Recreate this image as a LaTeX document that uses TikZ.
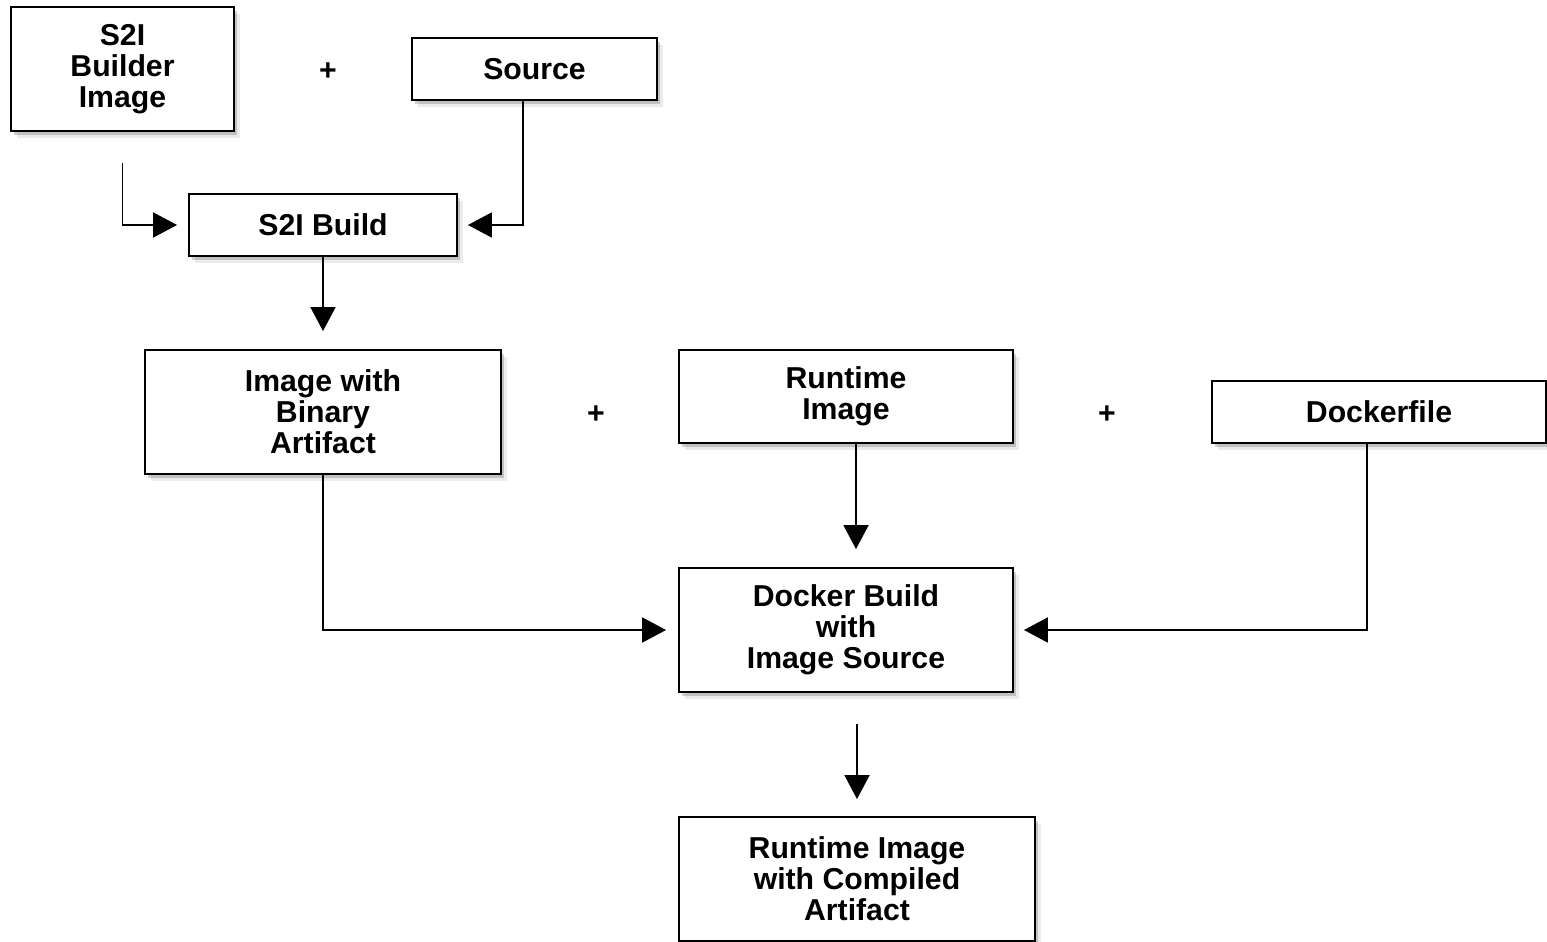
\documentclass[tikz,border=0pt]{standalone}
\usepackage{fontspec}
\setmainfont{Liberation Sans}
\usetikzlibrary{arrows.meta, shadows}

\begin{document}
\begin{tikzpicture}[x=0.02cm, y=-0.02cm,
    box/.style={draw, line width=1.1pt, fill=white, align=center, inner sep=0pt,
      font=\fontsize{17.2}{17.6}\selectfont\bfseries,
      drop shadow={shadow xshift=0.12cm, shadow yshift=-0.14cm, fill=black, opacity=0.08},
      drop shadow={shadow xshift=0.06cm, shadow yshift=-0.08cm, fill=black, opacity=0.18}},
    plus/.style={font=\fontsize{17.2}{17.6}\selectfont\bfseries},
    arr/.style={-{Triangle[length=0.48cm, width=0.5cm]}, line width=1.1pt}]
  \useasboundingbox (0,0) rectangle (1547,942);
  \node (builder)     at (122.5,69) [box, minimum width=4.46cm, minimum height=2.48cm] {S2I\\Builder\\Image};
  \node (source)      at (534.5,69) [box, minimum width=4.9cm,  minimum height=1.24cm] {Source};
  \node (s2ibuild)    at (323,225)  [box, minimum width=5.36cm, minimum height=1.24cm] {S2I Build};
  \node (artifact)    at (323,412)  [box, minimum width=7.12cm, minimum height=2.48cm] {Image with\\Binary\\Artifact};
  \node (runtime)     at (846,396.5)[box, minimum width=6.68cm, minimum height=1.86cm] {Runtime\\Image};
  \node (dockerfile)  at (1379,412) [box, minimum width=6.68cm, minimum height=1.24cm] {Dockerfile};
  \node (dockerbuild) at (846,630)  [box, minimum width=6.68cm, minimum height=2.48cm] {Docker Build\\with\\Image Source};
  \node (result)      at (857,879)  [box, minimum width=7.12cm, minimum height=2.48cm] {Runtime Image\\with Compiled\\Artifact};
  \node (plusA) at (328,72)  [plus] {+};
  \node (plusB) at (596,415) [plus] {+};
  \node (plusC) at (1107,415) [plus] {+};
  % S2I build step
  \draw[arr, shorten <=0.62cm, shorten >=0.22cm] (builder.south) |- (s2ibuild.west);
  \draw[arr, shorten >=0.2cm] ([xshift=-0.23cm]source.south) |- (s2ibuild.east);
  \draw[arr, shorten >=0.36cm] (s2ibuild.south) -- (artifact.north);
  % Docker build step
  \draw[arr, shorten >=0.24cm] (artifact.south) |- (dockerbuild.west);
  \draw[arr, shorten >=0.36cm] ([xshift=0.2cm]runtime.south) -- ([xshift=0.2cm]dockerbuild.north);
  \draw[arr, shorten >=0.2cm] ([xshift=-0.24cm]dockerfile.south) |- (dockerbuild.east);
  \draw[arr, shorten <=0.62cm, shorten >=0.34cm] (result.north |- dockerbuild.south) -- (result.north);
\end{tikzpicture}
\end{document}
